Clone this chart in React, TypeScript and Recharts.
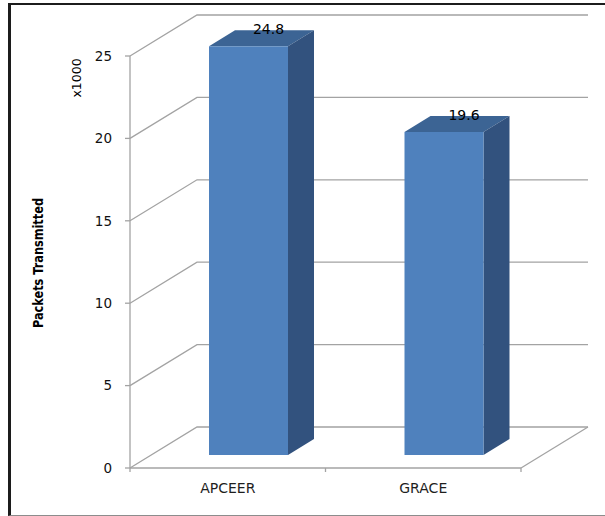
import { BarChart, Bar, XAxis, YAxis, CartesianGrid, LabelList } from "recharts";

const CATEGORIES = ["APCEER", "GRACE"];
const PACKETS_K = [24.8, 19.6];
const Y_TICKS = [0, 5, 10, 15, 20, 25];

const data = CATEGORIES.map((name, i) => ({ name, packets: PACKETS_K[i] }));

// fake 3D depth (Excel style)
const WALL_DX = 67;
const WALL_DY = 41;
const BAR_DX = 21;
const BAR_DY = 13;
const SIDE_DX = 26;
const SIDE_DY = 16;

const GRID = "#a3a3a3";
const FONT = "'DejaVu Sans', Verdana, sans-serif";

function GridLine(props: any) {
  const { x1, x2, y1, index } = props;
  const bottom = props.y + props.height;
  const isFloor = Math.abs(y1 - bottom) < 0.5;
  const n = CATEGORIES.length;
  return (
    <g key={`grid-${index}`}>
      <polyline
        points={`${x1},${y1} ${x1 + WALL_DX},${y1 - WALL_DY} ${x2 + WALL_DX},${y1 - WALL_DY}`}
        fill="none"
        stroke={GRID}
        strokeWidth={1.3}
      />
      {isFloor && (
        <>
          <line x1={x2} y1={y1} x2={x2 + WALL_DX} y2={y1 - WALL_DY} stroke={GRID} strokeWidth={1.3} />
          {Array.from({ length: n + 1 }, (_, i) => {
            const tx = x1 + (i * (x2 - x1)) / n;
            return <line key={i} x1={tx} y1={y1} x2={tx} y2={y1 + 4} stroke={GRID} strokeWidth={1.3} />;
          })}
        </>
      )}
    </g>
  );
}

function Bar3D(props: any) {
  const { x, y, width, height } = props;
  const fx = x + BAR_DX;
  const fy = y - BAR_DY;
  return (
    <g>
      <polygon
        points={`${fx},${fy} ${fx + width},${fy} ${fx + width + SIDE_DX},${fy - SIDE_DY} ${fx + SIDE_DX},${fy - SIDE_DY}`}
        fill="#3c6494"
      />
      <polygon
        points={`${fx + width},${fy} ${fx + width + SIDE_DX},${fy - SIDE_DY} ${fx + width + SIDE_DX},${fy + height - SIDE_DY} ${fx + width},${fy + height}`}
        fill="#32527e"
      />
      <rect x={fx} y={fy} width={width} height={height} fill="#4f81bd" />
    </g>
  );
}

function ValueLabel(props: any) {
  const { x, y, width, value } = props;
  return (
    <text
      x={x + width / 2 + BAR_DX + 20}
      y={y - BAR_DY - 12}
      textAnchor="middle"
      fontFamily={FONT}
      fontSize={14}
      fill="#000"
    >
      {value}
    </text>
  );
}

export default function App() {
  return (
    <div style={{ position: "absolute", left: 0, top: 0, width: 605, height: 516, background: "#fff" }}>
      <div
        style={{
          position: "absolute",
          left: 8,
          top: 3,
          width: 597,
          height: 513,
          borderTop: "2px solid #1c1c1c",
          borderLeft: "3px solid #1c1c1c",
          borderBottom: "1px solid #8c8c8c",
          boxSizing: "border-box",
        }}
      />
      <div style={{ position: "absolute", left: 0, top: 0 }}>
        <BarChart width={605} height={516} data={data} margin={{ top: 56, right: 84, bottom: 18, left: 70 }}>
          <CartesianGrid vertical={false} horizontal={GridLine} />
          <XAxis
            dataKey="name"
            height={30}
            axisLine={{ stroke: GRID, strokeWidth: 1.3 }}
            tickLine={false}
            tickSize={0}
            tickMargin={15}
            tick={{ fill: "#1e1e1e", fontSize: 14, fontFamily: FONT }}
          />
          <YAxis
            width={60}
            domain={[0, 25]}
            ticks={Y_TICKS}
            interval={0}
            axisLine={{ stroke: GRID, strokeWidth: 1.3 }}
            tickLine={{ stroke: GRID, strokeWidth: 1.3 }}
            tickSize={5}
            tickMargin={13}
            tick={{ fill: "#111", fontSize: 13.5, fontFamily: FONT }}
          />
          <Bar dataKey="packets" barSize={79} shape={Bar3D} isAnimationActive={false}>
            <LabelList dataKey="packets" content={ValueLabel} />
          </Bar>
          <text
            x={37.5}
            y={263}
            transform="rotate(-90 37.5 263)"
            textAnchor="middle"
            dominantBaseline="central"
            fontFamily="'Liberation Sans Narrow', 'DejaVu Sans Condensed', sans-serif"
            fontWeight="bold"
            fontSize={14.5}
            textLength={130}
            lengthAdjust="spacingAndGlyphs"
            fill="#000"
          >
            Packets Transmitted
          </text>
          <text
            x={76}
            y={78}
            transform="rotate(-90 76 78)"
            textAnchor="middle"
            dominantBaseline="central"
            fontFamily={FONT}
            fontSize={12.5}
            fill="#000"
          >
            x1000
          </text>
        </BarChart>
      </div>
    </div>
  );
}
